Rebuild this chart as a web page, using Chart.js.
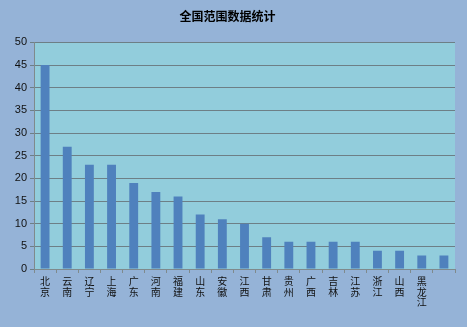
<!DOCTYPE html>
<html>
<head>
<meta charset="utf-8">
<script src="https://cdn.jsdelivr.net/npm/chart.js@4"></script>
<style>
  html, body { margin: 0; padding: 0; background: #95b3d7; }
  #wrap { width: 467px; height: 327px; }
</style>
</head>
<body>
<div id="wrap"><canvas id="chart" width="467" height="327"></canvas></div>
<script>
// 省份 (竖排显示, 每个字一行)
const provinces = ['北京', '云南', '辽宁', '上海', '广东', '河南', '福建', '山东', '安徽', '江西',
  '甘肃', '贵州', '广西', '吉林', '江苏', '浙江', '山西', '黑龙江', '']
const counts = [45, 27, 23, 23, 19, 17, 16, 12, 11, 10, 7, 6, 6, 6, 6, 4, 4, 3, 3]
const yTicks = [0, 5, 10, 15, 20, 25, 30, 35, 40, 45, 50]

// 背景: 外框和绘图区
const bgPlugin = {
  id: 'bg',
  beforeDraw(chart) {
    const c = chart.ctx, a = chart.chartArea
    c.save()
    c.fillStyle = '#95b3d7'
    c.fillRect(0, 0, chart.width, chart.height)
    c.fillStyle = '#92cddc'
    c.fillRect(a.left, a.top, a.right - a.left, a.bottom - a.top)
    c.restore()
  }
}

const ctx = document.getElementById('chart')
const barGraph = new Chart(ctx, {
  type: 'bar',
  data: {
    labels: provinces.map(p => p.split('')),
    datasets: [{
      label: '数量',
      data: counts,
      backgroundColor: '#4f81bd',
      barPercentage: 0.4,
      categoryPercentage: 1
    }]
  },
  options: {
    responsive: false,
    animation: false,
    layout: { padding: { left: 0, right: 12, top: 0, bottom: 0 } },
    plugins: {
      legend: { display: false },
      tooltip: { enabled: false },
      title: {
        display: true,
        text: '全国范围数据统计',
        color: '#000',
        font: { family: '"Noto Sans CJK SC"', size: 12, weight: 'bold' },
        padding: { top: 9, bottom: 19 }
      }
    },
    scales: {
      x: {
        afterFit(scale) { scale.height = 58 },
        grid: { drawOnChartArea: false, drawTicks: true, tickLength: 4, color: '#7f8a8c' },
        border: { color: '#7f8a8c' },
        ticks: {
          color: '#111',
          maxRotation: 0,
          autoSkip: false,
          padding: 3,
          font: { family: '"Noto Sans CJK SC"', size: 10, lineHeight: 1.05 }
        }
      },
      y: {
        min: 0,
        max: 50,
        afterFit(scale) { scale.width = 34 },
        afterBuildTicks(scale) { scale.ticks = yTicks.map(v => ({ value: v })) },
        grid: { color: '#6d7f86', tickLength: 4 },
        border: { color: '#7f8a8c' },
        ticks: {
          color: '#111',
          padding: 3,
          font: { family: '"Liberation Sans"', size: 11 }
        }
      }
    }
  },
  plugins: [bgPlugin]
})
</script>
</body>
</html>
